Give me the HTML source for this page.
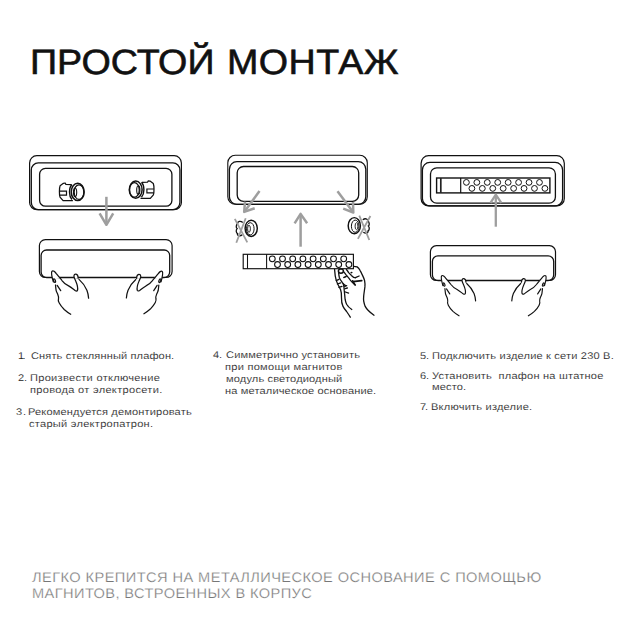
<!DOCTYPE html>
<html><head><meta charset="utf-8"><style>
html,body{margin:0;padding:0;background:#fff;}
body{width:630px;height:630px;position:relative;overflow:hidden;font-family:"Liberation Sans",sans-serif;}
.t{position:absolute;white-space:pre;text-rendering:geometricPrecision;}
svg{position:absolute;left:0;top:0;}
</style></head><body>
<svg width="630" height="630" viewBox="0 0 630 630">


<!-- ===== Panel 1 ===== -->
<g fill="none" stroke="#111">
 <rect x="29.6" y="155.7" width="151.8" height="53.9" rx="7.2" stroke-width="1.2"/>
 <rect x="31.3" y="162.9" width="148.6" height="46.7" rx="7" stroke-width="1.3"/>
 <rect x="39.6" y="168.4" width="132.3" height="37.8" rx="5.8" stroke-width="1.3"/>
</g>
<g transform="translate(77.7,191.9)" stroke="#111" fill="none">
  <path d="M-6.3,-7.3 L-11.8,-7.5 L-12.6,-8.9 L-14.3,-8.6 L-17.6,-6.2 C-18.5,-4 -18.5,3 -17.7,5.2 L-14.6,8.7 L-4.8,8.7" stroke-width="1.25" stroke-linejoin="round"/>
  <path d="M-18.2,-0.7 L-11.2,-0.7 L-11.2,3.2 L-18.2,3.2" stroke-width="1.2"/>
  <path d="M-5.8,-7.4 C-9,-4 -9,4 -5.8,7.6" stroke-width="1.4"/>
  <ellipse cx="0" cy="0" rx="6.4" ry="8.6" fill="#fff" stroke-width="1.5"/>
  <ellipse cx="1.3" cy="0.2" rx="4.9" ry="7.3" stroke-width="1.3"/>
  <ellipse cx="-2.6" cy="0.4" rx="1.6" ry="4.3" stroke-width="1.1"/>
</g>
<g transform="translate(135.7,189.7) scale(-1,1)" stroke="#111" fill="none">
  <path d="M-6.3,-7.3 L-11.8,-7.5 L-12.6,-8.9 L-14.3,-8.6 L-17.6,-6.2 C-18.5,-4 -18.5,3 -17.7,5.2 L-14.6,8.7 L-4.8,8.7" stroke-width="1.25" stroke-linejoin="round"/>
  <path d="M-18.2,-0.7 L-11.2,-0.7 L-11.2,3.2 L-18.2,3.2" stroke-width="1.2"/>
  <path d="M-5.8,-7.4 C-9,-4 -9,4 -5.8,7.6" stroke-width="1.4"/>
  <ellipse cx="0" cy="0" rx="6.4" ry="8.6" fill="#fff" stroke-width="1.5"/>
  <ellipse cx="1.3" cy="0.2" rx="4.9" ry="7.3" stroke-width="1.3"/>
  <ellipse cx="-2.6" cy="0.4" rx="1.6" ry="4.3" stroke-width="1.1"/>
</g>
<g stroke="#9e9e9e" stroke-width="2.5" fill="none">
 <path d="M106.4,196.8 L106.4,224"/>
 <path d="M99.6,213.3 L106.4,224.8 L113.2,213.3" stroke-linejoin="round"/>
</g>
<g fill="none" stroke="#111">
 <rect x="39.4" y="239.6" width="132.7" height="37.9" rx="6" stroke-width="1.2"/>
 <rect x="41.1" y="250" width="128.6" height="27.5" rx="5.5" stroke-width="1.3"/>
</g>
<g transform="translate(39.5,277.5)" stroke="#111" stroke-width="1.25" stroke-linecap="round" stroke-linejoin="round">
  <path d="M13.8,4.6 C12.6,0 11.3,-4.6 12.4,-6.2 C13.6,-7.6 15.6,-5.6 16.8,-3.8 C18.5,-1.5 20.8,0.6 20.8,0.6 L13.9,2 Z" fill="#fff" stroke="none"/>
  <path d="M34.4,-0.3 C34,-2 35,-3.4 36.5,-3.3 C38,-3.2 38.7,-1.5 38.7,0.6 L35,1 Z" fill="#fff" stroke="none"/>
  <path d="M13.8,4.3 C12.6,0 11.3,-4.6 12.4,-6.2 C13.6,-7.6 15.6,-5.6 16.8,-3.8 C18.5,-1.5 20.8,0.6 22.5,3 C24,5 26,7 29.1,8.4 C31.5,9.8 34,11.8 35.6,13 C36.6,13.7 37.6,13.9 38,12.8 C38.6,10.5 37.5,6.5 36.2,3.5 C35.2,1.5 34.3,-0.3 34.4,-1.5 C34.6,-3 35.6,-3.4 36.5,-3.3 C37.7,-3.1 38.6,-1.8 38.7,0.6" fill="none"/>
  <path d="M39.5,1.9 C42.5,4.5 45.5,8.5 47.4,12.8 C48.4,15.5 49,18 49.1,20.7" fill="none"/>
  <path d="M16,7.5 C16.2,10 16.4,11.5 16.6,12.8 C17,14.5 17.7,15.5 18.3,17 C18.9,18.5 19.2,20 19,21 C18.6,22.5 18.7,23.8 19.6,25.3 C20.8,27.6 22.5,29.8 24.7,32 C26.8,33.9 29,35.5 31.2,36.8" fill="none"/>
  <path d="M17.7,7.8 L21.2,13.2" fill="none"/>
  <ellipse cx="15" cy="3.1" rx="0.9" ry="1.9" transform="rotate(-22 15 3.1)" fill="none"/>
</g>
<g transform="translate(174.5,277.7) scale(-0.98,0.98)" stroke="#111" stroke-width="1.25" stroke-linecap="round" stroke-linejoin="round">
  <path d="M13.8,4.6 C12.6,0 11.3,-4.6 12.4,-6.2 C13.6,-7.6 15.6,-5.6 16.8,-3.8 C18.5,-1.5 20.8,0.6 20.8,0.6 L13.9,2 Z" fill="#fff" stroke="none"/>
  <path d="M34.4,-0.3 C34,-2 35,-3.4 36.5,-3.3 C38,-3.2 38.7,-1.5 38.7,0.6 L35,1 Z" fill="#fff" stroke="none"/>
  <path d="M13.8,4.3 C12.6,0 11.3,-4.6 12.4,-6.2 C13.6,-7.6 15.6,-5.6 16.8,-3.8 C18.5,-1.5 20.8,0.6 22.5,3 C24,5 26,7 29.1,8.4 C31.5,9.8 34,11.8 35.6,13 C36.6,13.7 37.6,13.9 38,12.8 C38.6,10.5 37.5,6.5 36.2,3.5 C35.2,1.5 34.3,-0.3 34.4,-1.5 C34.6,-3 35.6,-3.4 36.5,-3.3 C37.7,-3.1 38.6,-1.8 38.7,0.6" fill="none"/>
  <path d="M39.5,1.9 C42.5,4.5 45.5,8.5 47.4,12.8 C48.4,15.5 49,18 49.1,20.7" fill="none"/>
  <path d="M16,7.5 C16.2,10 16.4,11.5 16.6,12.8 C17,14.5 17.7,15.5 18.3,17 C18.9,18.5 19.2,20 19,21 C18.6,22.5 18.7,23.8 19.6,25.3 C20.8,27.6 22.5,29.8 24.7,32 C26.8,33.9 29,35.5 31.2,36.8" fill="none"/>
  <path d="M17.7,7.8 L21.2,13.2" fill="none"/>
  <ellipse cx="15" cy="3.1" rx="0.9" ry="1.9" transform="rotate(-22 15 3.1)" fill="none"/>
</g>

<!-- ===== Panel 2 ===== -->
<g fill="none" stroke="#111">
 <rect x="227.8" y="155.3" width="139.5" height="49" rx="7.5" stroke-width="1.1"/>
 <rect x="229.4" y="161.7" width="136.4" height="42.6" rx="7.5" stroke-width="1.3"/>
 <rect x="237.2" y="166.5" width="121.5" height="34.9" rx="6.3" stroke-width="1.3"/>
</g>
<g stroke="#9e9e9e" stroke-width="2.5" fill="none">
 <path d="M259.5,191.1 L244.6,211.5"/>
 <path d="M254.7,208.3 L244.2,211.9 L245,201.6" stroke-linejoin="round"/>
 <path d="M337.5,191.3 L353,212"/>
 <path d="M343.2,208.7 L353.3,212.5 L353,202" stroke-linejoin="round"/>
 <path d="M300.6,246.7 L300.6,214.5"/>
 <path d="M294.6,223.3 L300.6,213.9 L307.1,223.3" stroke-linejoin="round"/>
</g>
<g transform="translate(251.2,228.3)" stroke="#111" fill="none">
  <path d="M-8.5,-5.8 C-10.5,-7.8 -13.8,-7 -13.5,-5 C-15.3,-3.5 -15.3,-0.3 -14.1,0.3 C-15.5,1.8 -15.1,4.8 -13.6,5.4 C-14.5,7.2 -11.5,8.3 -9,6.6" stroke-width="1.3"/>
  <ellipse cx="0" cy="0" rx="6.1" ry="8.1" fill="#fff" stroke-width="1.45"/>
  <ellipse cx="-0.9" cy="0.5" rx="3.8" ry="6.1" stroke-width="1.0"/>
  <ellipse cx="-2.2" cy="0.5" rx="1.4" ry="3.5" stroke-width="0.9"/>
</g>
<g transform="translate(354.3,225.7) scale(-1,1)" stroke="#111" fill="none">
  <path d="M-8.5,-5.8 C-10.5,-7.8 -13.8,-7 -13.5,-5 C-15.3,-3.5 -15.3,-0.3 -14.1,0.3 C-15.5,1.8 -15.1,4.8 -13.6,5.4 C-14.5,7.2 -11.5,8.3 -9,6.6" stroke-width="1.3"/>
  <ellipse cx="0" cy="0" rx="6.1" ry="8.1" fill="#fff" stroke-width="1.45"/>
  <ellipse cx="-0.9" cy="0.5" rx="3.8" ry="6.1" stroke-width="1.0"/>
  <ellipse cx="-2.2" cy="0.5" rx="1.4" ry="3.5" stroke-width="0.9"/>
</g>
<g stroke="#9e9e9e" stroke-width="1.8" fill="none">
 <path d="M234.8,218.8 L247.3,242.4 M245.7,218.3 L236.3,242.7"/>
 <path d="M359.3,215.7 L369.3,240 M370.4,216 L357.9,238.9"/>
</g>
<!-- strip -->
<g fill="none" stroke="#111" stroke-width="1.05">
 <rect x="243.2" y="254.3" width="110.2" height="14.4" fill="#fff" stroke-width="1.15"/>
 <path d="M247.5,254.3 V268.7 M266.6,254.3 V268.7"/>
 <g><circle cx="272.30" cy="258.8" r="2.9"/><circle cx="282.50" cy="258.8" r="2.9"/><circle cx="292.70" cy="258.8" r="2.9"/><circle cx="302.90" cy="258.8" r="2.9"/><circle cx="313.10" cy="258.8" r="2.9"/><circle cx="323.30" cy="258.8" r="2.9"/><circle cx="333.50" cy="258.8" r="2.9"/><circle cx="343.70" cy="258.8" r="2.9"/><circle cx="277.50" cy="264.5" r="2.9"/><circle cx="287.70" cy="264.5" r="2.9"/><circle cx="297.90" cy="264.5" r="2.9"/><circle cx="308.10" cy="264.5" r="2.9"/><circle cx="318.30" cy="264.5" r="2.9"/><circle cx="328.50" cy="264.5" r="2.9"/><circle cx="338.70" cy="264.5" r="2.9"/><circle cx="348.90" cy="264.5" r="2.9"/></g>
</g>
<!-- hand 2 -->
<g fill="none" stroke="#111" stroke-width="1.3" stroke-linecap="round" stroke-linejoin="round">
 <path d="M353.7,266.3 C355,266.3 356,266.5 357.1,266.9 C358.2,267.6 359.2,268.8 360,270.3 C361,272 361.7,273.4 362.3,274.9 C363.3,276.9 364.1,278.7 364.6,280.6 C365,282.7 365.1,284.8 364.9,286.9 C364.5,290 364,293 363.7,296 C363.5,298 363.5,299.8 363.7,301.2 C364,303 364.5,304.8 365.2,306.4 C366,308 367,309.3 368.3,310.5 C370,312.3 372,313.8 374,315.2"/>
 <path d="M334.6,269.4 C334.8,273 334.9,276 336.3,280.6 C337.5,284 339.5,287.5 340.6,289.7 C341.5,292 341.6,295 341.5,298 C341.4,301 341.8,304 343,306.4 C344,308.5 345.2,310 346.6,311.5 C348,313.5 349.2,315.3 350.3,317.2"/>
 <path d="M338.6,272.6 C338.8,274.5 339,276.2 339.4,277.7 C339.9,279 340.6,280.1 341.4,281.1 C342,282.1 342.7,283.1 343.4,284 C344,284.8 344.8,285.3 345.7,285.7"/>
 <path d="M343.4,284 C343.9,286 344.2,288.5 344.3,290.9 C344.6,293.5 344.8,296.5 345.1,299.2 C345.4,301 345.9,302.8 346.6,304.3 C347.8,306.5 349.8,308.2 351.8,309.5"/>
 <path d="M343.4,271.4 C344.2,272.3 345,273.3 345.7,274.3 C346.5,275.3 347.2,276.2 348,277.1 C348.6,277.9 349.1,278.7 349.7,279.4 C350.5,280.4 351.4,281.4 352.3,282.3 C353.1,283.2 354,284.1 354.9,284.9"/>
 <path d="M346.4,269.5 C347.3,270.5 348,271.5 348.6,272.6 C349.5,273.6 350.5,274.5 351.4,275.4 C352.2,276.1 353,276.8 353.7,277.4 C354.3,277.6 354.9,277.7 355.4,277.7"/>
 <path d="M355.4,277.7 L359.1,276"/>
 <path d="M353.1,281.7 L361.7,280.6" stroke-width="1.8"/>
 <path d="M352.6,280.6 C353.5,282 354.5,283.6 355.4,285.1"/>
 <path d="M336.3,280.6 L338.9,279.4 M337.4,284 L340.6,282.9 M338.9,287.4 L342,286.4"/>
 <path d="M345.1,288.6 L347.4,288 M345.4,292 L348.6,293.1 M344.6,286.3 L346.7,285.7"/>
 <ellipse cx="345" cy="277" rx="2.1" ry="0.9" transform="rotate(-20 345 277)" fill="#111" stroke="none"/>
 <ellipse cx="351.5" cy="272.6" rx="1.1" ry="0.8" fill="#111" stroke="none"/>
 <ellipse cx="340.9" cy="271.1" rx="2.5" ry="2.2" fill="#fff" stroke-width="1.5"/>
</g>

<!-- ===== Panel 3 ===== -->
<g fill="none" stroke="#111">
 <rect x="421.1" y="155.7" width="143.2" height="50.2" rx="7.5" stroke-width="1.2"/>
 <rect x="422.4" y="162.4" width="140.2" height="43.5" rx="7.5" stroke-width="1.3"/>
 <rect x="430.5" y="167.8" width="124.9" height="35.4" rx="6.3" stroke-width="1.3"/>
 <rect x="436.6" y="178" width="113.3" height="14.9" stroke-width="1.4"/>
 <path d="M440.8,178 V192.9" stroke-width="1.7" stroke="#222"/>
 <path d="M460.7,178 V192.9" stroke-width="1.2"/>
 <g><circle cx="466.40" cy="182.4" r="2.9"/><circle cx="476.84" cy="182.4" r="2.9"/><circle cx="487.28" cy="182.4" r="2.9"/><circle cx="497.72" cy="182.4" r="2.9"/><circle cx="508.16" cy="182.4" r="2.9"/><circle cx="518.60" cy="182.4" r="2.9"/><circle cx="529.04" cy="182.4" r="2.9"/><circle cx="539.48" cy="182.4" r="2.9"/><circle cx="471.90" cy="188.4" r="2.9"/><circle cx="482.33" cy="188.4" r="2.9"/><circle cx="492.76" cy="188.4" r="2.9"/><circle cx="503.19" cy="188.4" r="2.9"/><circle cx="513.62" cy="188.4" r="2.9"/><circle cx="524.05" cy="188.4" r="2.9"/><circle cx="534.48" cy="188.4" r="2.9"/><circle cx="544.91" cy="188.4" r="2.9"/></g>
</g>
<g stroke="#9e9e9e" stroke-width="2.3" fill="none">
 <path d="M495.8,226.7 L495.8,195.5"/>
 <path d="M490.5,202.9 L495.8,194.7 L501.3,202.9" stroke-linejoin="round"/>
</g>
<g fill="none" stroke="#111">
 <rect x="430.4" y="245.7" width="125.1" height="34.8" rx="6" stroke-width="1.2"/>
 <rect x="432.4" y="255.9" width="121.3" height="24.6" rx="5.5" stroke-width="1.3"/>
</g>
<g transform="translate(430.1,281.7) scale(0.927)" stroke="#111" stroke-width="1.25" stroke-linecap="round" stroke-linejoin="round">
  <path d="M13.8,4.6 C12.6,0 11.3,-4.6 12.4,-6.2 C13.6,-7.6 15.6,-5.6 16.8,-3.8 C18.5,-1.5 20.8,0.6 20.8,0.6 L13.9,2 Z" fill="#fff" stroke="none"/>
  <path d="M34.4,-0.3 C34,-2 35,-3.4 36.5,-3.3 C38,-3.2 38.7,-1.5 38.7,0.6 L35,1 Z" fill="#fff" stroke="none"/>
  <path d="M13.8,4.3 C12.6,0 11.3,-4.6 12.4,-6.2 C13.6,-7.6 15.6,-5.6 16.8,-3.8 C18.5,-1.5 20.8,0.6 22.5,3 C24,5 26,7 29.1,8.4 C31.5,9.8 34,11.8 35.6,13 C36.6,13.7 37.6,13.9 38,12.8 C38.6,10.5 37.5,6.5 36.2,3.5 C35.2,1.5 34.3,-0.3 34.4,-1.5 C34.6,-3 35.6,-3.4 36.5,-3.3 C37.7,-3.1 38.6,-1.8 38.7,0.6" fill="none"/>
  <path d="M39.5,1.9 C42.5,4.5 45.5,8.5 47.4,12.8 C48.4,15.5 49,18 49.1,20.7" fill="none"/>
  <path d="M16,7.5 C16.2,10 16.4,11.5 16.6,12.8 C17,14.5 17.7,15.5 18.3,17 C18.9,18.5 19.2,20 19,21 C18.6,22.5 18.7,23.8 19.6,25.3 C20.8,27.6 22.5,29.8 24.7,32 C26.8,33.9 29,35.5 31.2,36.8" fill="none"/>
  <path d="M17.7,7.8 L21.2,13.2" fill="none"/>
  <ellipse cx="15" cy="3.1" rx="0.9" ry="1.9" transform="rotate(-22 15 3.1)" fill="none"/>
</g>
<g transform="translate(557.3,281.7) scale(-0.927,0.927)" stroke="#111" stroke-width="1.25" stroke-linecap="round" stroke-linejoin="round">
  <path d="M13.8,4.6 C12.6,0 11.3,-4.6 12.4,-6.2 C13.6,-7.6 15.6,-5.6 16.8,-3.8 C18.5,-1.5 20.8,0.6 20.8,0.6 L13.9,2 Z" fill="#fff" stroke="none"/>
  <path d="M34.4,-0.3 C34,-2 35,-3.4 36.5,-3.3 C38,-3.2 38.7,-1.5 38.7,0.6 L35,1 Z" fill="#fff" stroke="none"/>
  <path d="M13.8,4.3 C12.6,0 11.3,-4.6 12.4,-6.2 C13.6,-7.6 15.6,-5.6 16.8,-3.8 C18.5,-1.5 20.8,0.6 22.5,3 C24,5 26,7 29.1,8.4 C31.5,9.8 34,11.8 35.6,13 C36.6,13.7 37.6,13.9 38,12.8 C38.6,10.5 37.5,6.5 36.2,3.5 C35.2,1.5 34.3,-0.3 34.4,-1.5 C34.6,-3 35.6,-3.4 36.5,-3.3 C37.7,-3.1 38.6,-1.8 38.7,0.6" fill="none"/>
  <path d="M39.5,1.9 C42.5,4.5 45.5,8.5 47.4,12.8 C48.4,15.5 49,18 49.1,20.7" fill="none"/>
  <path d="M16,7.5 C16.2,10 16.4,11.5 16.6,12.8 C17,14.5 17.7,15.5 18.3,17 C18.9,18.5 19.2,20 19,21 C18.6,22.5 18.7,23.8 19.6,25.3 C20.8,27.6 22.5,29.8 24.7,32 C26.8,33.9 29,35.5 31.2,36.8" fill="none"/>
  <path d="M17.7,7.8 L21.2,13.2" fill="none"/>
  <ellipse cx="15" cy="3.1" rx="0.9" ry="1.9" transform="rotate(-22 15 3.1)" fill="none"/>
</g>
</svg>

<div class="t" style="left:29.89px;top:42px;font-size:35.2px;line-height:42.24px;color:#111;letter-spacing:0.041px;-webkit-text-stroke:0.6px #111;transform:scaleX(1.07);transform-origin:0 0;">ПРОСТОЙ</div>
<div class="t" style="left:227.15px;top:42px;font-size:35.2px;line-height:42.24px;color:#111;letter-spacing:0.402px;-webkit-text-stroke:0.6px #111;transform:scaleX(1.07);transform-origin:0 0;">МОНТАЖ</div>
<div class="t" style="left:17.92px;top:351px;font-size:9.7px;line-height:11.64px;color:#222;letter-spacing:-1.500px;-webkit-text-stroke:0.1px #fff;transform:scaleX(1.14);transform-origin:0 0;">1.</div>
<div class="t" style="left:30.71px;top:351px;font-size:9.7px;line-height:11.64px;color:#222;letter-spacing:0.112px;-webkit-text-stroke:0.1px #fff;transform:scaleX(1.14);transform-origin:0 0;">Снять стеклянный плафон.</div>
<div class="t" style="left:17.56px;top:373px;font-size:9.7px;line-height:11.64px;color:#222;letter-spacing:-0.200px;-webkit-text-stroke:0.1px #fff;transform:scaleX(1.14);transform-origin:0 0;">2.</div>
<div class="t" style="left:29.51px;top:373px;font-size:9.7px;line-height:11.64px;color:#222;letter-spacing:0.261px;-webkit-text-stroke:0.1px #fff;transform:scaleX(1.14);transform-origin:0 0;">Произвести отключение</div>
<div class="t" style="left:30.29px;top:385px;font-size:9.7px;line-height:11.64px;color:#222;letter-spacing:0.270px;-webkit-text-stroke:0.1px #fff;transform:scaleX(1.14);transform-origin:0 0;">провода от электросети.</div>
<div class="t" style="left:16.04px;top:407px;font-size:9.7px;line-height:11.64px;color:#222;letter-spacing:0.650px;-webkit-text-stroke:0.1px #fff;transform:scaleX(1.14);transform-origin:0 0;">3.</div>
<div class="t" style="left:28.10px;top:407px;font-size:9.7px;line-height:11.64px;color:#222;letter-spacing:0.141px;-webkit-text-stroke:0.1px #fff;transform:scaleX(1.14);transform-origin:0 0;">Рекомендуется демонтировать</div>
<div class="t" style="left:28.61px;top:419px;font-size:9.7px;line-height:11.64px;color:#222;letter-spacing:0.238px;-webkit-text-stroke:0.1px #fff;transform:scaleX(1.14);transform-origin:0 0;">старый электропатрон.</div>
<div class="t" style="left:213.16px;top:350px;font-size:9.7px;line-height:11.64px;color:#222;letter-spacing:-0.200px;-webkit-text-stroke:0.1px #fff;transform:scaleX(1.14);transform-origin:0 0;">4.</div>
<div class="t" style="left:225.91px;top:350px;font-size:9.7px;line-height:11.64px;color:#222;letter-spacing:0.137px;-webkit-text-stroke:0.1px #fff;transform:scaleX(1.14);transform-origin:0 0;">Симметрично установить</div>
<div class="t" style="left:225.29px;top:362px;font-size:9.7px;line-height:11.64px;color:#222;letter-spacing:0.238px;-webkit-text-stroke:0.1px #fff;transform:scaleX(1.14);transform-origin:0 0;">при помощи магнитов</div>
<div class="t" style="left:225.56px;top:374px;font-size:9.7px;line-height:11.64px;color:#222;letter-spacing:0.132px;-webkit-text-stroke:0.1px #fff;transform:scaleX(1.14);transform-origin:0 0;">модуль светодиодный</div>
<div class="t" style="left:225.48px;top:386px;font-size:9.7px;line-height:11.64px;color:#222;letter-spacing:0.132px;-webkit-text-stroke:0.1px #fff;transform:scaleX(1.14);transform-origin:0 0;">на металическое основание.</div>
<div class="t" style="left:419.67px;top:351px;font-size:9.7px;line-height:11.64px;color:#222;letter-spacing:-0.200px;-webkit-text-stroke:0.1px #fff;transform:scaleX(1.14);transform-origin:0 0;">5.</div>
<div class="t" style="left:431.71px;top:351px;font-size:9.7px;line-height:11.64px;color:#222;letter-spacing:0.162px;-webkit-text-stroke:0.1px #fff;transform:scaleX(1.14);transform-origin:0 0;">Подключить изделие к сети 230 В.</div>
<div class="t" style="left:420.38px;top:371px;font-size:9.7px;line-height:11.64px;color:#222;letter-spacing:-0.200px;-webkit-text-stroke:0.1px #fff;transform:scaleX(1.14);transform-origin:0 0;">6.</div>
<div class="t" style="left:432.11px;top:371px;font-size:9.7px;line-height:11.64px;color:#222;letter-spacing:0.182px;-webkit-text-stroke:0.1px #fff;transform:scaleX(1.14);transform-origin:0 0;">Установить  плафон на штатное</div>
<div class="t" style="left:431.96px;top:382px;font-size:9.7px;line-height:11.64px;color:#222;letter-spacing:0.134px;-webkit-text-stroke:0.1px #fff;transform:scaleX(1.14);transform-origin:0 0;">место.</div>
<div class="t" style="left:420.43px;top:402px;font-size:9.7px;line-height:11.64px;color:#222;letter-spacing:-1.000px;-webkit-text-stroke:0.1px #fff;transform:scaleX(1.14);transform-origin:0 0;">7.</div>
<div class="t" style="left:430.52px;top:402px;font-size:9.7px;line-height:11.64px;color:#222;letter-spacing:0.188px;-webkit-text-stroke:0.1px #fff;transform:scaleX(1.14);transform-origin:0 0;">Включить изделие.</div>
<div class="t" style="left:32.22px;top:570px;font-size:13.8px;line-height:16.56px;color:#777777;letter-spacing:0.393px;-webkit-text-stroke:0.25px #fff;transform:scaleX(1.06);transform-origin:0 0;">ЛЕГКО КРЕПИТСЯ НА МЕТАЛЛИЧЕСКОЕ ОСНОВАНИЕ С ПОМОЩЬЮ</div>
<div class="t" style="left:31.97px;top:586px;font-size:13.8px;line-height:16.56px;color:#777777;letter-spacing:0.368px;-webkit-text-stroke:0.25px #fff;transform:scaleX(1.06);transform-origin:0 0;">МАГНИТОВ, ВСТРОЕННЫХ В КОРПУС</div>
</body></html>
